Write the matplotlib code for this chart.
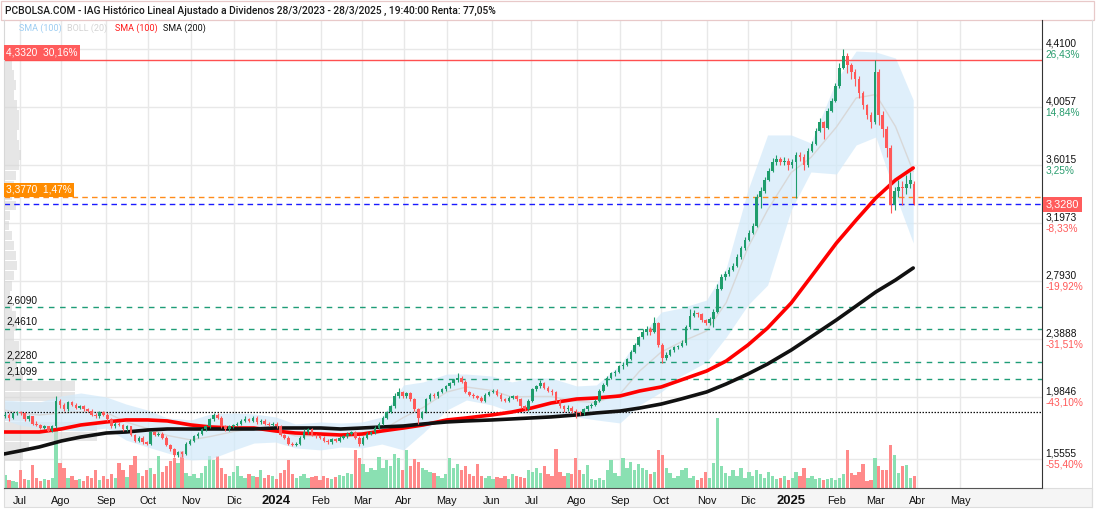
import numpy as np
import matplotlib
matplotlib.use("Agg")
import matplotlib.pyplot as plt
from matplotlib import font_manager
from matplotlib.transforms import blended_transform_factory as blend
from matplotlib.patches import Rectangle
from matplotlib.lines import Line2D

# ---------------- data ----------------
first_day = "2023-06-21"

opens = [1.85,1.86,1.84,1.87,1.88,1.87,1.83,1.85,1.80,1.79,1.77,1.78,1.75,
         1.78,1.96,1.93,1.90,1.95,1.93,1.91,1.92,1.90,1.89,1.86,1.85,1.88,
         1.86,1.83,1.78,1.80,1.79,1.76,1.78,1.72,1.68,1.70,1.67,
         1.66,1.74,1.72,1.73,1.70,1.65,1.62,1.58,1.60,1.59,1.66,
         1.68,1.71,1.73,1.76,1.78,1.83,1.86,1.84,1.78,1.76,1.78,
         1.79,1.80,1.82,1.83,1.82,1.84,1.81,1.82,1.80,1.79,1.80,
         1.78,1.72,1.70,1.66,1.65,1.66,1.70,1.74,1.76,1.72,1.71,
         1.70,1.68,1.67,1.69,1.68,1.70,1.71,1.73,1.74,1.70,
         1.66,1.70,1.73,1.74,1.77,1.80,1.84,1.88,1.92,1.99,2.02,
         1.99,2.01,1.97,1.90,1.84,1.88,1.97,2.00,1.99,2.02,2.04,
         2.06,2.08,2.10,2.12,2.09,2.02,2.00,1.99,1.98,1.96,2.00,
         2.02,2.03,2.00,1.97,1.96,1.98,1.99,1.97,1.92,1.90,1.96,
         2.04,2.06,2.08,2.05,2.03,2.02,1.96,1.92,1.90,1.91,1.89,
         1.88,1.87,1.90,1.92,1.93,1.96,2.03,2.07,2.12,2.15,2.16,
         2.20,2.21,2.25,2.30,2.35,2.40,2.44,2.46,2.44,2.50,2.35,
         2.26,2.28,2.31,2.33,2.34,2.36,2.47,2.55,2.57,2.56,2.52,
         2.50,2.53,2.58,2.74,2.82,2.84,2.87,2.90,2.96,3.02,3.08,
         3.13,3.18,3.38,3.42,3.50,3.56,3.62,3.64,3.62,3.63,3.60,
         3.62,3.67,3.66,3.60,3.70,3.75,3.84,3.90,3.86,3.98,4.05,
         4.15,4.28,4.36,4.30,4.25,4.20,4.10,4.02,3.95,3.90,4.25,
         3.95,3.85,3.72,3.32,3.42,3.45,3.44,3.47,3.47]

highs = [1.88,1.87,1.88,1.89,1.89,1.88,1.86,1.85,1.82,1.80,1.79,1.78,1.79,
         1.99,1.97,1.94,1.96,1.96,1.94,1.93,1.93,1.91,1.90,1.87,1.89,1.89,
         1.87,1.84,1.81,1.81,1.80,1.79,1.78,1.73,1.71,1.71,1.68,
         1.75,1.75,1.74,1.74,1.71,1.66,1.63,1.61,1.61,1.67,1.69,
         1.72,1.74,1.77,1.79,1.84,1.87,1.87,1.85,1.79,1.79,1.80,
         1.81,1.83,1.85,1.84,1.85,1.85,1.83,1.83,1.81,1.81,1.81,
         1.79,1.73,1.71,1.67,1.67,1.71,1.76,1.77,1.77,1.73,1.72,
         1.71,1.69,1.70,1.70,1.71,1.72,1.74,1.75,1.75,1.71,
         1.71,1.74,1.75,1.78,1.81,1.85,1.89,1.93,2.01,2.05,2.03,
         2.02,2.02,1.98,1.91,1.89,1.98,2.01,2.01,2.03,2.05,2.07,
         2.09,2.11,2.15,2.13,2.10,2.03,2.01,2.00,1.99,2.01,2.03,
         2.04,2.04,2.01,1.98,1.99,2.00,2.00,1.98,1.93,1.97,2.05,
         2.07,2.10,2.09,2.06,2.04,2.03,1.97,1.93,1.93,1.92,1.90,
         1.89,1.91,1.93,1.94,1.97,2.04,2.08,2.13,2.16,2.17,2.21,
         2.23,2.26,2.31,2.36,2.41,2.46,2.48,2.47,2.54,2.51,2.36,
         2.30,2.32,2.34,2.35,2.38,2.49,2.60,2.59,2.58,2.57,2.53,
         2.54,2.60,2.77,2.84,2.86,2.89,2.92,2.98,3.04,3.10,3.15,
         3.20,3.40,3.45,3.52,3.58,3.65,3.67,3.66,3.66,3.65,3.64,
         3.69,3.69,3.68,3.72,3.77,3.86,3.93,3.91,4.00,4.07,4.17,
         4.31,4.41,4.38,4.31,4.27,4.22,4.12,4.03,3.97,4.33,4.27,
         3.98,3.87,3.74,3.45,3.50,3.49,3.53,3.55,3.49]

lows = [1.84,1.82,1.83,1.86,1.86,1.82,1.82,1.79,1.78,1.76,1.76,1.74,1.74,
        1.77,1.91,1.89,1.89,1.92,1.90,1.90,1.89,1.88,1.85,1.84,1.84,1.85,
        1.82,1.77,1.77,1.78,1.75,1.75,1.71,1.67,1.67,1.66,1.65,
        1.65,1.71,1.71,1.69,1.64,1.61,1.57,1.57,1.57,1.58,1.65,
        1.67,1.70,1.72,1.75,1.77,1.82,1.83,1.77,1.75,1.75,1.77,
        1.78,1.79,1.81,1.81,1.81,1.80,1.80,1.79,1.78,1.78,1.77,
        1.71,1.69,1.65,1.64,1.64,1.65,1.69,1.73,1.71,1.70,1.69,
        1.67,1.66,1.66,1.67,1.67,1.69,1.70,1.72,1.69,1.64,
        1.65,1.69,1.72,1.73,1.76,1.79,1.83,1.87,1.91,1.98,1.98,
        1.98,1.96,1.89,1.80,1.83,1.87,1.96,1.98,1.98,2.01,2.03,
        2.05,2.07,2.09,2.08,2.01,1.99,1.98,1.97,1.95,1.95,1.99,
        2.01,1.99,1.96,1.95,1.95,1.97,1.96,1.91,1.89,1.89,1.95,
        2.03,2.05,2.04,2.02,2.00,1.95,1.91,1.88,1.89,1.87,1.84,
        1.86,1.86,1.89,1.91,1.92,1.95,2.02,2.06,2.11,2.13,2.15,
        2.18,2.20,2.24,2.29,2.34,2.39,2.42,2.42,2.43,2.33,2.22,
        2.24,2.27,2.30,2.32,2.33,2.35,2.46,2.54,2.54,2.51,2.49,
        2.49,2.47,2.57,2.73,2.80,2.83,2.86,2.89,2.95,3.01,3.07,
        3.12,3.17,3.30,3.41,3.49,3.55,3.60,3.60,3.60,3.57,3.58,
        3.37,3.63,3.57,3.59,3.69,3.74,3.83,3.78,3.85,3.97,4.04,
        4.14,4.27,4.24,4.20,4.15,4.07,3.99,3.92,3.86,3.89,3.88,
        3.80,3.66,3.27,3.29,3.38,3.32,3.40,3.44,3.32]

closes = [1.86,1.84,1.87,1.88,1.87,1.83,1.85,1.80,1.79,1.77,1.78,1.75,1.78,
          1.96,1.93,1.90,1.95,1.93,1.91,1.92,1.90,1.89,1.86,1.85,1.88,1.86,
          1.83,1.78,1.80,1.79,1.76,1.78,1.72,1.68,1.70,1.67,1.66,
          1.74,1.72,1.73,1.70,1.65,1.62,1.58,1.60,1.59,1.66,1.68,
          1.71,1.73,1.76,1.78,1.83,1.86,1.84,1.78,1.76,1.78,1.79,
          1.80,1.82,1.83,1.82,1.84,1.81,1.82,1.80,1.79,1.80,1.78,
          1.72,1.70,1.66,1.65,1.66,1.70,1.74,1.76,1.72,1.71,1.70,
          1.68,1.67,1.69,1.68,1.70,1.71,1.73,1.74,1.70,1.66,
          1.70,1.73,1.74,1.77,1.80,1.84,1.88,1.92,1.99,2.02,1.99,
          2.01,1.97,1.90,1.84,1.88,1.97,2.00,1.99,2.02,2.04,2.06,
          2.08,2.10,2.12,2.09,2.02,2.00,1.99,1.98,1.96,2.00,2.02,
          2.03,2.00,1.97,1.96,1.98,1.99,1.97,1.92,1.90,1.96,2.04,
          2.06,2.08,2.05,2.03,2.02,1.96,1.92,1.90,1.91,1.89,1.88,
          1.87,1.90,1.92,1.93,1.96,2.03,2.07,2.12,2.15,2.16,2.20,
          2.21,2.25,2.30,2.35,2.40,2.44,2.46,2.44,2.50,2.35,2.26,
          2.28,2.31,2.33,2.34,2.36,2.47,2.55,2.57,2.56,2.52,2.50,
          2.53,2.58,2.74,2.82,2.84,2.87,2.90,2.96,3.02,3.08,3.13,
          3.18,3.38,3.42,3.50,3.56,3.62,3.64,3.62,3.63,3.60,3.62,
          3.67,3.66,3.60,3.70,3.75,3.84,3.90,3.86,3.98,4.05,4.15,
          4.28,4.36,4.30,4.25,4.20,4.10,4.02,3.95,3.90,4.25,3.95,
          3.85,3.72,3.32,3.42,3.45,3.44,3.47,3.50,3.33]

volumes = [13,8,7,6,18,9,8,23,10,7,9,8,10,
           57,25,20,10,12,8,9,7,12,10,18,8,12,
           9,14,10,25,18,11,23,32,15,12,18,
           20,14,32,16,22,27,30,25,37,15,12,
           14,10,15,22,32,28,32,20,14,12,16,
           22,12,10,14,12,11,18,10,13,12,9,
           15,18,28,14,10,12,14,10,11,12,8,
           12,10,9,11,13,12,15,14,38,30,
           24,16,20,18,31,20,28,22,34,30,18,
           38,22,29,26,20,18,16,15,12,10,14,
           30,20,24,18,22,14,12,24,12,10,12,
           9,11,10,12,9,14,12,11,10,18,16,
           20,15,22,14,12,39,16,12,15,14,30,
           18,14,23,9,8,10,8,18,28,15,12,
           30,20,26,18,24,20,18,14,16,38,33,
           20,15,10,12,18,20,10,12,8,10,16,
           10,25,70,22,15,12,18,12,20,10,16,
           12,18,14,10,16,12,9,10,12,8,10,
           16,12,20,10,12,9,10,8,9,10,8,
           10,14,38,15,13,16,24,7,8,30,22,
           18,18,43,33,15,22,23,10,12]

ind_dates = ["2023-06-21","2023-07-01","2023-07-15","2023-08-01","2023-08-15","2023-09-01",
             "2023-09-15","2023-10-01","2023-10-15","2023-11-01","2023-11-15","2023-12-01",
             "2023-12-15","2024-01-01","2024-01-15","2024-02-01","2024-02-15","2024-03-01",
             "2024-03-15","2024-04-01","2024-04-15","2024-05-01","2024-05-15","2024-06-01",
             "2024-06-15","2024-07-01","2024-07-15","2024-08-01","2024-08-15","2024-09-01",
             "2024-09-15","2024-10-01","2024-10-15","2024-11-01","2024-11-15","2024-12-01",
             "2024-12-15","2025-01-01","2025-01-15","2025-02-01","2025-02-15","2025-03-01",
             "2025-03-15","2025-03-28"]
sma100 = [1.741,1.741,1.741,1.762,1.790,1.811,1.825,1.825,1.818,1.790,1.776,1.769,
          1.769,1.748,1.734,1.727,1.720,1.727,1.748,1.769,1.790,1.825,1.839,1.860,
          1.880,1.908,1.943,1.971,1.978,1.992,2.027,2.055,2.103,2.166,2.236,2.347,
          2.466,2.640,2.821,3.058,3.218,3.372,3.497,3.581]
sma200 = [1.588,1.609,1.637,1.678,1.706,1.734,1.741,1.755,1.762,1.762,1.762,1.762,
          1.762,1.769,1.769,1.769,1.762,1.769,1.776,1.783,1.797,1.811,1.818,1.825,
          1.832,1.839,1.846,1.860,1.874,1.887,1.908,1.936,1.971,2.020,2.076,2.145,
          2.215,2.312,2.403,2.522,2.619,2.717,2.800,2.884]
boll_upper = [1.964,1.957,1.950,1.992,2.013,1.985,1.936,1.894,1.839,1.825,1.867,1.874,
              1.867,1.846,1.797,1.811,1.804,1.811,1.846,2.069,2.090,2.145,2.145,2.131,
              2.090,2.117,2.117,2.062,2.069,2.208,2.403,2.577,2.605,2.661,2.884,3.427,
              3.811,3.811,3.755,4.194,4.396,4.389,4.347,4.055]
boll_lower = [1.825,1.790,1.769,1.755,1.748,1.769,1.685,1.636,1.595,1.546,1.553,1.616,
              1.664,1.671,1.630,1.616,1.636,1.630,1.657,1.616,1.734,1.894,1.964,1.929,
              1.880,1.860,1.860,1.846,1.825,1.804,1.929,2.020,2.131,2.229,2.403,2.626,
              2.765,3.288,3.553,3.539,3.741,3.797,3.393,3.058]

# volume-by-price profile (left side), bins of 0.07
vp_prices = [4.30,4.23,4.16,4.09,4.02,3.95,3.88,3.81,3.74,3.67,3.60,3.53,3.46,3.39,
             3.32,3.25,3.18,3.11,3.04,2.97,2.90,2.83,2.76,2.69,2.62,2.55,2.48,2.41,
             2.34,2.27,2.20,2.13,2.06,1.99,1.92,1.85,1.78,1.71,1.64,1.57]
vp_volumes = [8,10,12,10,14,16,16,14,16,18,16,12,10,8,
              12,6,5,8,10,12,14,10,8,6,8,12,14,10,
              16,18,14,20,74,74,74,24,97,97,26,20]

level_prices = [2.6090, 2.4610, 2.2280, 2.1099]
level_labels = ["2,6090", "2,4610", "2,2280", "2,1099"]
axis_prices = [4.4100, 4.0057, 3.6015, 3.1973, 2.7930, 2.3888, 1.9846, 1.5555]
axis_labels = ["4,4100", "4,0057", "3,6015", "3,1973", "2,7930", "2,3888", "1,9846", "1,5555"]
axis_pcts = ["26,43%", "14,84%", "3,25%", "-8,33%", "-19,92%", "-31,51%", "-43,10%", "-55,40%"]
max_price, max_text = 4.3320, "4,3320  30,16%"
ref_price, ref_text = 3.3770, "3,3770  1,47%"
last_price, last_text = 3.3280, "3,3280"
start_price = 1.8797

month_dates = ["2023-07-03","2023-08-01","2023-09-01","2023-10-02","2023-11-01","2023-12-01",
               "2024-01-01","2024-02-01","2024-03-01","2024-04-01","2024-05-01","2024-06-03",
               "2024-07-01","2024-08-01","2024-09-02","2024-10-01","2024-11-01","2024-12-02",
               "2025-01-01","2025-02-03","2025-03-03","2025-04-01","2025-05-01"]
month_labels = ["Jul","Ago","Sep","Oct","Nov","Dic","2024","Feb","Mar","Abr","May","Jun",
                "Jul","Ago","Sep","Oct","Nov","Dic","2025","Feb","Mar","Abr","May"]

title = ("PCBOLSA.COM - IAG Histórico Lineal Ajustado a Dividenos 28/3/2023 - 28/3/2025 , "
         "19:40:00 Renta: 77,05%")

# ---------------- fonts ----------------
names = {f.name for f in font_manager.fontManager.ttflist}
HEAD = "Roboto" if "Roboto" in names else "Liberation Sans"
SANS = "Liberation Sans"

# ---------------- figure geometry ----------------
W, H = 1096, 512
fig = plt.figure(figsize=(W / 100, H / 100), dpi=100)
fig.patch.set_facecolor("white")
L, T, R, B = 4, 20, 1042, 488
rect = [L / W, 1 - B / H, (R - L) / W, (B - T) / H]
PX_PER_DAY = 1.968
XMAX = (R - L) / PX_PER_DAY
YTOP = 4.41 + (49 - T) / 143.5
YBOT = 4.41 - (B - 49) / 143.5

def bday(d):
    return np.busday_count(first_day, np.array(d, dtype="datetime64[D]"))

n = len(closes)
cdates = np.busday_offset(first_day, 2 * np.arange(n), roll="forward")
cx = bday(cdates) + 0.5
o = np.array(opens); c = np.array(closes); hi = np.array(highs); lo = np.array(lows)
up = c >= o
GREEN, RED = "#1f9d6c", "#ff5858"
VGREEN, VRED = "#8ae0b2", "#ff8a8a"

# bottom axes: gridlines + volume
axv = fig.add_axes(rect)
axv.set_xlim(0, XMAX)
axv.set_ylim(0, B - T)
axv.set_facecolor("white")
for s in axv.spines.values():
    s.set_visible(False)
axv.set_xticks([]); axv.set_yticks([])

# price axes on top
ax = fig.add_axes(rect, sharex=axv)
ax.patch.set_visible(False)
ax.set_ylim(YBOT, YTOP)
ax.set_xlim(0, XMAX)
ax.set_xticks([]); ax.set_yticks([])
ax.spines["top"].set_visible(False)
ax.spines["left"].set_color("#d8d8d8")
ax.spines["right"].set_color("#333333")
ax.spines["bottom"].set_color("#555555")

mx = bday(month_dates)
for m in mx:
    axv.axvline(m, color="#e8e8e8", lw=1.0, zorder=0)
gtrans = blend(axv.transAxes, ax.transData)
for p in axis_prices:
    axv.plot([0, 1], [p, p], transform=gtrans, color="#e8e8e8", lw=1.0, zorder=0)

axv.bar(cx, volumes, width=1.7, color=np.where(up, VGREEN, VRED), linewidth=0, zorder=2)

# volume profile
axp = fig.add_axes(rect, sharey=ax)
axp.patch.set_visible(False)
axp.set_xlim(0, max(vp_volumes) * (R - L) / 93.0)
axp.barh(vp_prices, vp_volumes, height=0.066, color="#d6d6d6", alpha=0.6, linewidth=0)
axp.axis("off")

ax.set_zorder(3); axp.set_zorder(2); axv.set_zorder(1)

# bollinger band, middle line, SMAs
ix = bday(ind_dates).astype(float)
bu = np.array(boll_upper); bl = np.array(boll_lower)
ax.fill_between(ix, bl, bu, color="#d3eafa", alpha=0.72, linewidth=0, zorder=1)
ax.plot(ix, (bu + bl) / 2, color="#d8d8d8", lw=1.0, zorder=1.5)

# horizontal reference lines
ax.axhline(max_price, color="#ff5050", lw=1.0, zorder=2)
ax.axhline(ref_price, color="#ff8c1a", lw=1.0, dashes=(4, 3), zorder=2)
ax.axhline(last_price, color="#1a1aff", lw=1.0, dashes=(4, 3), zorder=2)
for p in level_prices:
    ax.axhline(p, color="#1f9d77", lw=1.0, dashes=(4, 4), zorder=2)
ax.axhline(start_price, color="#111111", lw=0.9, dashes=(1.2, 1.2), zorder=2)

ax.plot(ix, sma100, color="#ff0000", lw=2.6, zorder=3, solid_capstyle="round")
ax.plot(ix, sma200, color="#111111", lw=2.6, zorder=3, solid_capstyle="round")

# candles
ccol = np.where(up, GREEN, RED)
ax.vlines(cx, lo, hi, colors=ccol, lw=0.8, zorder=4)
body = np.maximum(np.abs(c - o), 0.006)
ax.bar(cx, body, bottom=np.minimum(o, c), width=1.3, color=ccol, linewidth=0, zorder=5)

# ---------------- texts ----------------
fs_num = 7.3
for p, lab, pct in zip(axis_prices, axis_labels, axis_pcts):
    ax.annotate(lab, xy=(1, p), xycoords=("axes fraction", "data"), xytext=(2.5, 0.3),
                textcoords="offset points", ha="left", va="bottom", fontsize=fs_num,
                family=SANS, color="#111111", annotation_clip=False)
    col = "#2a9d6f" if not pct.startswith("-") else "#ff5a5a"
    ax.annotate(pct, xy=(1, p), xycoords=("axes fraction", "data"), xytext=(2.5, -0.3),
                textcoords="offset points", ha="left", va="top", fontsize=fs_num,
                family=SANS, color=col, annotation_clip=False)

for p, lab in zip(level_prices, level_labels):
    ax.annotate(lab, xy=(0, p), xycoords=("axes fraction", "data"), xytext=(1.5, 1.5),
                textcoords="offset points", ha="left", va="bottom", fontsize=fs_num,
                family=SANS, color="#111111", zorder=6)

ax.annotate(max_text, xy=(0, max_price), xycoords=("axes fraction", "data"), xytext=(1.5, 1.8),
            textcoords="offset points", ha="left", va="bottom", fontsize=fs_num, family=SANS,
            color="white", zorder=7,
            bbox=dict(boxstyle="square,pad=0.22", fc="#ff5c5c", ec="none"))
ax.annotate(ref_text, xy=(0, ref_price), xycoords=("axes fraction", "data"), xytext=(1.5, 1.8),
            textcoords="offset points", ha="left", va="bottom", fontsize=fs_num, family=SANS,
            color="white", zorder=7,
            bbox=dict(boxstyle="square,pad=0.22", fc="#ff8c00", ec="none"))
ax.annotate(last_text, xy=(1, last_price), xycoords=("axes fraction", "data"), xytext=(2.5, 0),
            textcoords="offset points", ha="left", va="center", fontsize=fs_num + 0.5, family=SANS,
            color="white", zorder=7, annotation_clip=False,
            bbox=dict(boxstyle="square,pad=0.25", fc="#ff5c5c", ec="none"))

# x labels band
fig.patches.append(Rectangle((L / W, 1 - 507 / H), (1092 - L) / W, (507 - B) / H,
                             transform=fig.transFigure, fc="#f5f5f5", ec="#dddddd", lw=0.8, zorder=0))
fig.lines.append(Line2D([1092 / W, 1092 / W], [1 - 507 / H, 1 - T / H], transform=fig.transFigure,
                        color="#dddddd", lw=0.8))
for m, lab in zip(mx, month_labels):
    bold = lab.isdigit()
    ax.annotate(lab, xy=(m, 0), xycoords=("data", "axes fraction"), xytext=(0, -9.5),
                textcoords="offset points", ha="center", va="center",
                fontsize=9.4 if bold else 7.8, fontweight="bold" if bold else "normal",
                family=SANS, color="#111111", annotation_clip=False)

# title bar
fig.patches.append(Rectangle((1 / W, 1 - 19.5 / H), 1093 / W, 18.5 / H, transform=fig.transFigure,
                             fc="white", ec="#e8c9c9", lw=0.9))
fig.text(5 / W, 1 - 10.5 / H, title, ha="left", va="center", fontsize=7.4,
         family=HEAD, fontweight="medium", color="#1a1a1a")

legend_items = [("SMA (100)", "#9ccdf2", 19), ("BOLL (20)", "#d4d4d4", 67),
                ("SMA (100)", "#ff1a1a", 115), ("SMA (200)", "#111111", 163)]
for txt, col, x in legend_items:
    fig.text(x / W, 1 - 28 / H, txt, ha="left", va="center", fontsize=6.5,
             family=HEAD, color=col)

fig.savefig("out.png", dpi=100)
